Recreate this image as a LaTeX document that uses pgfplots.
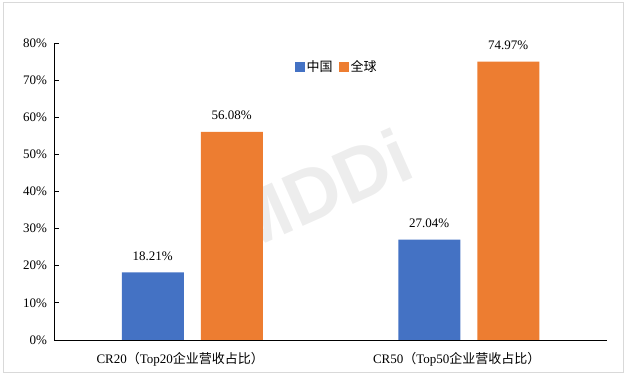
\documentclass[border=0pt]{standalone}
\usepackage{pgfplots}
\pgfplotsset{compat=1.18}
\usepackage{fontspec}
\setmainfont{Liberation Serif}
\newfontfamily\cjk{Noto Sans CJK SC}
\newfontfamily\wm{Liberation Sans}
\definecolor{cblue}{HTML}{4472C4}
\definecolor{corange}{HTML}{ED7D31}
\definecolor{framec}{HTML}{D9D9D9}
\begin{document}
\begin{tikzpicture}
\useasboundingbox (0,0) rectangle (632bp,380bp);
\draw[framec, line width=1bp] (3bp,7bp) rectangle (623bp,377bp);
\node[rotate=24, text=black!7, font=\wm\bfseries\fontsize{76bp}{76bp}\selectfont] at (318bp,190bp) {MDDi};
\begin{axis}[
  at={(54bp,40bp)}, anchor=south west, scale only axis,
  width=553bp, height=297bp,
  xmin=-0.5, xmax=1.5, ymin=0, ymax=80,
  axis x line*=bottom, axis y line*=left,
  axis line style={black, line width=0.8bp, -},
  xtick={0,1},
  xticklabels={CR20{\cjk （}Top20{\cjk 企业营收占比）}, CR50{\cjk （}Top50{\cjk 企业营收占比）}},
  xtick style={draw=none},
  ytick={0,10,20,30,40,50,60,70,80},
  yticklabels={0\%,10\%,20\%,30\%,40\%,50\%,60\%,70\%,80\%},
  tick align=inside, major tick length=5bp,
  ytick style={black, line width=0.8bp},
  tick label style={font=\fontsize{13bp}{15bp}\selectfont, text=black},
  yticklabel style={xshift=-3.5bp},
  xticklabel style={xshift=-12bp, yshift=-4bp},
  ybar=17bp, bar width=62bp,
  every axis plot post/.append style={/pgfplots/legend image code/.code={\fill[##1] (0bp,-5bp) rectangle (10bp,5bp);}},
  nodes near coords={\pgfmathprintnumber[fixed,fixed zerofill,precision=2,assume math mode=true]{\pgfplotspointmeta}\%},
  nodes near coords style={font=\fontsize{13bp}{15bp}\selectfont, text=black, inner sep=0pt, yshift=12bp, anchor=south},
  legend style={at={(0.511,0.919)}, anchor=center, draw=none, fill=none,
    legend columns=-1, font=\cjk\fontsize{13bp}{15bp}\selectfont,
    /tikz/every even column/.append style={column sep=4bp},
    inner xsep=0pt},
  legend cell align=left,
]
\addplot[fill=cblue, draw=none] coordinates {(0,18.21) (1,27.04)};
\addplot[fill=corange, draw=none] coordinates {(0,56.08) (1,74.97)};
\legend{中国,全球}
\end{axis}
\end{tikzpicture}
\end{document}
